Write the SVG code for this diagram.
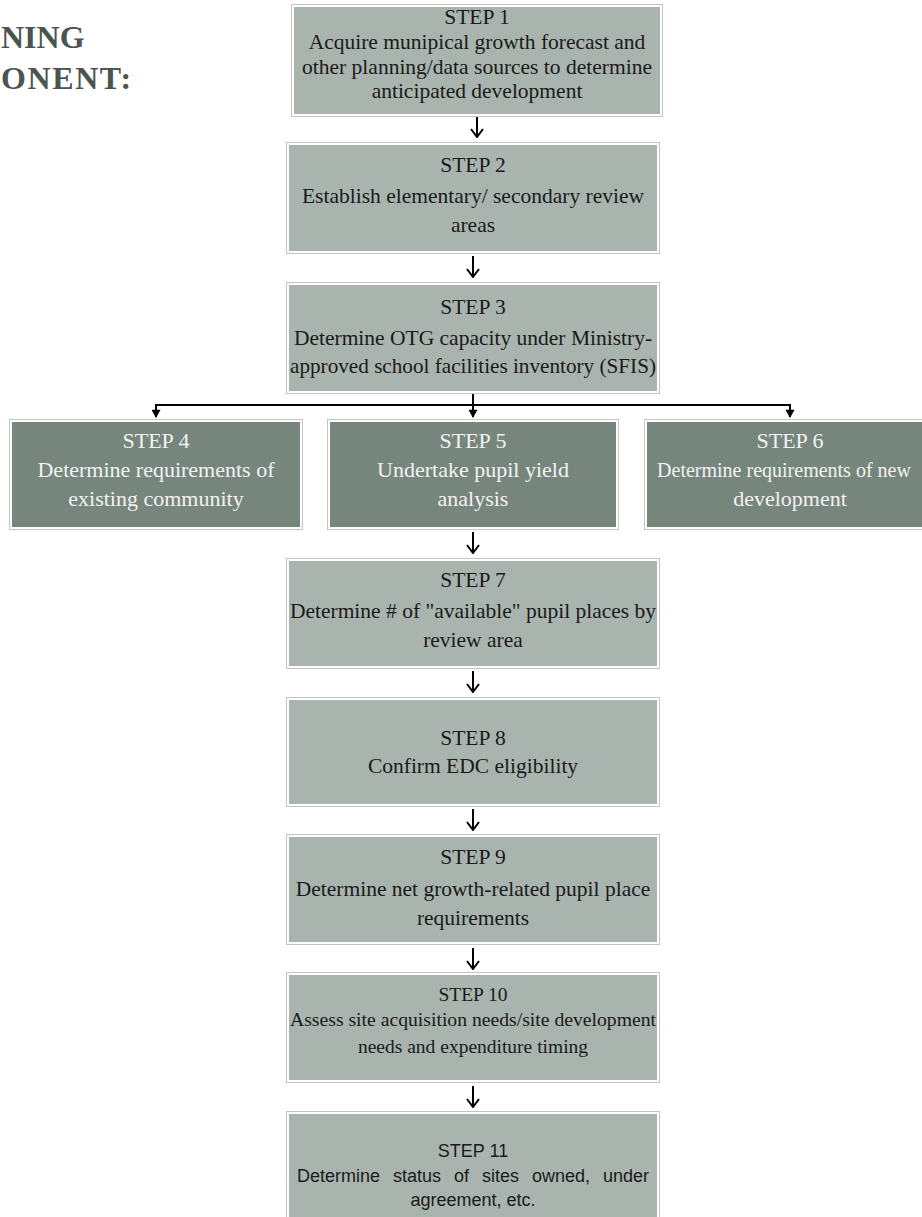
<svg xmlns="http://www.w3.org/2000/svg" width="922" height="1217" viewBox="0 0 922 1217">
<defs>
<marker id="vhead" viewBox="0 0 12 14" markerWidth="12" markerHeight="14" refX="11" refY="7" markerUnits="userSpaceOnUse" orient="auto">
<path d="M3,1 L11,7 L3,13" fill="none" stroke="#000" stroke-width="2"/>
</marker>
<marker id="tri" viewBox="0 0 10 10" markerWidth="9" markerHeight="9" refX="9" refY="5" markerUnits="userSpaceOnUse" orient="auto">
<path d="M1,0 L10,5 L1,10 Z" fill="#000"/>
</marker>
</defs>
<style>
.outer{fill:#ffffff;stroke:#c4c4c4;stroke-width:1}
.light{fill:#a9b4af}
.dark{fill:#76867d}
.t{font-family:"Liberation Serif","Times New Roman",serif;font-size:21.5px;fill:#1a1a1a;text-anchor:middle}
.tw{font-family:"Liberation Serif","Times New Roman",serif;font-size:22px;fill:#f2f2f2;text-anchor:middle}
.tw2{font-family:"Liberation Serif","Times New Roman",serif;font-size:20px;fill:#f2f2f2;text-anchor:middle}
.ts{font-family:"Liberation Serif","Times New Roman",serif;font-size:19.5px;fill:#1a1a1a;text-anchor:middle}
.ta{font-family:"Liberation Sans",Arial,sans-serif;font-size:18px;fill:#1a1a1a;text-anchor:middle}
.title{font-family:"Liberation Serif","Times New Roman",serif;font-size:32px;font-weight:bold;fill:#4a5550}
.conn{stroke:#000;stroke-width:2;fill:none}
</style>
<g id="title">
<text class="title" x="1" y="48">NING</text>
<text class="title" x="1" y="89" letter-spacing="1.6">ONENT:</text>
</g>
<g id="connectors">
<line class="conn" x1="477" y1="117" x2="477" y2="137" marker-end="url(#vhead)"/>
<line class="conn" x1="473" y1="256" x2="473" y2="277" marker-end="url(#vhead)"/>
<line class="conn" x1="473" y1="394" x2="473" y2="405"/>
<line class="conn" x1="155" y1="405" x2="791" y2="405"/>
<line class="conn" x1="156" y1="405" x2="156" y2="417" marker-end="url(#tri)"/>
<line class="conn" x1="473" y1="405" x2="473" y2="417" marker-end="url(#tri)"/>
<line class="conn" x1="790" y1="405" x2="790" y2="417" marker-end="url(#tri)"/>
<line class="conn" x1="473" y1="532" x2="473" y2="553" marker-end="url(#vhead)"/>
<line class="conn" x1="473" y1="671" x2="473" y2="692" marker-end="url(#vhead)"/>
<line class="conn" x1="473" y1="809" x2="473" y2="830" marker-end="url(#vhead)"/>
<line class="conn" x1="473" y1="948" x2="473" y2="969" marker-end="url(#vhead)"/>
<line class="conn" x1="473" y1="1086" x2="473" y2="1107" marker-end="url(#vhead)"/>
</g>
<g id="step1">
<rect class="outer" x="291.5" y="4.5" width="371" height="112"/>
<rect class="light" x="294" y="7" width="366" height="107"/>
<text class="t" x="477" y="24">STEP 1</text>
<text class="t" x="477" y="49">Acquire munipical growth forecast and</text>
<text class="t" x="477" y="74">other planning/data sources to determine</text>
<text class="t" x="477" y="98">anticipated development</text>
</g>
<g id="step2">
<rect class="outer" x="286.5" y="142.5" width="373" height="111"/>
<rect class="light" x="289" y="145" width="368" height="106"/>
<text class="t" x="473" y="172">STEP 2</text>
<text class="t" x="473" y="203">Establish elementary/ secondary review</text>
<text class="t" x="473" y="232">areas</text>
</g>
<g id="step3">
<rect class="outer" x="286.5" y="282.5" width="373" height="111"/>
<rect class="light" x="289" y="285" width="368" height="106"/>
<text class="t" x="473" y="314">STEP 3</text>
<text class="t" x="473" y="345">Determine OTG capacity under Ministry-</text>
<text class="t" x="473" y="373" textLength="366" lengthAdjust="spacingAndGlyphs">approved school facilities inventory (SFIS)</text>
</g>
<g id="step4">
<rect class="outer" x="9.5" y="419.5" width="293" height="110"/>
<rect class="dark" x="12" y="422" width="288" height="105"/>
<text class="tw" x="156" y="448">STEP 4</text>
<text class="tw" x="156" y="477">Determine requirements of</text>
<text class="tw" x="156" y="506">existing community</text>
</g>
<g id="step5">
<rect class="outer" x="327.5" y="419.5" width="291" height="110"/>
<rect class="dark" x="330" y="422" width="286" height="105"/>
<text class="tw" x="473" y="448">STEP 5</text>
<text class="tw" x="473" y="477">Undertake pupil yield</text>
<text class="tw" x="473" y="506">analysis</text>
</g>
<g id="step6">
<rect class="outer" x="644.5" y="419.5" width="292" height="110"/>
<rect class="dark" x="647" y="422" width="287" height="105"/>
<text class="tw" x="790" y="448">STEP 6</text>
<text class="tw2" x="784" y="477">Determine requirements of new</text>
<text class="tw" x="790" y="506">development</text>
</g>
<g id="step7">
<rect class="outer" x="286.5" y="558.5" width="373" height="110"/>
<rect class="light" x="289" y="561" width="368" height="105"/>
<text class="t" x="473" y="587">STEP 7</text>
<text class="t" x="473" y="618">Determine # of "available" pupil places by</text>
<text class="t" x="473" y="647">review area</text>
</g>
<g id="step8">
<rect class="outer" x="286.5" y="697.5" width="373" height="109"/>
<rect class="light" x="289" y="700" width="368" height="104"/>
<text class="t" x="473" y="745">STEP 8</text>
<text class="t" x="473" y="773">Confirm EDC eligibility</text>
</g>
<g id="step9">
<rect class="outer" x="286.5" y="834.5" width="373" height="110"/>
<rect class="light" x="289" y="837" width="368" height="105"/>
<text class="t" x="473" y="864">STEP 9</text>
<text class="t" x="473" y="896">Determine net growth-related pupil place</text>
<text class="t" x="473" y="925">requirements</text>
</g>
<g id="step10">
<rect class="outer" x="286.5" y="972.5" width="373" height="110"/>
<rect class="light" x="289" y="975" width="368" height="105"/>
<text class="ts" x="473" y="1001">STEP 10</text>
<text class="ts" x="473" y="1026" textLength="366" lengthAdjust="spacingAndGlyphs">Assess site acquisition needs/site development</text>
<text class="ts" x="473" y="1053">needs and expenditure timing</text>
</g>
<g id="step11">
<rect class="outer" x="286.5" y="1111.5" width="373" height="110"/>
<rect class="light" x="289" y="1114" width="368" height="105"/>
<text class="ta" x="473" y="1157">STEP 11</text>
<text class="ta" x="473" y="1182" word-spacing="8">Determine status of sites owned, under</text>
<text class="ta" x="473" y="1206">agreement, etc.</text>
</g>
</svg>
